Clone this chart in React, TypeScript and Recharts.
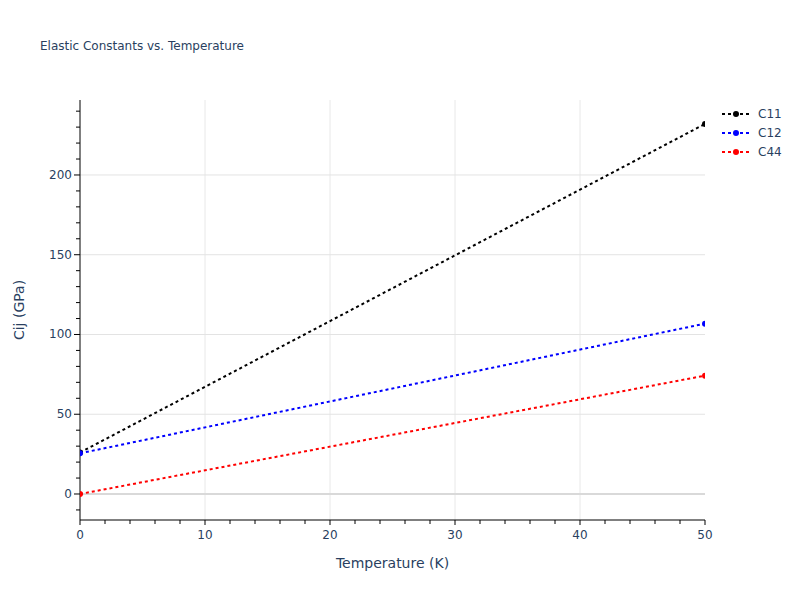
import React from 'react';
import { LineChart, Line, XAxis, YAxis, ReferenceLine, Label } from 'recharts';

const temperature = [0, 50];
const c11 = [26, 232];
const c12 = [25.5, 106.8];
const c44 = [0, 74.2];

const seriesNames = ['C11', 'C12', 'C44'];
const seriesColors = ['#000000', '#0000ff', '#ff0000'];

const xTicks = [0, 2, 4, 6, 8, 10, 12, 14, 16, 18, 20, 22, 24, 26, 28, 30, 32, 34, 36, 38, 40, 42, 44, 46, 48, 50];
const xMajor = [0, 10, 20, 30, 40, 50];
const xGrid = [10, 20, 30, 40];
const yTicks = [-10, 0, 10, 20, 30, 40, 50, 60, 70, 80, 90, 100, 110, 120, 130, 140, 150, 160, 170, 180, 190, 200, 210, 220, 230, 240];
const yMajor = [0, 50, 100, 150, 200];
const yGrid = [50, 100, 150, 200];

const data = temperature.map((t, i) => ({ t, C11: c11[i], C12: c12[i], C44: c44[i] }));

const FONT = '"DejaVu Sans", Verdana, sans-serif';
const TEXT = '#2a3f5f';

const XTick = (props: any) => {
  const { x, y, payload } = props;
  const major = xMajor.includes(payload.value);
  return (
    <g>
      <line x1={x} x2={x} y1={y} y2={y + (major ? 5 : 4)} stroke="#000" strokeWidth={1} />
      {major && (
        <text x={x} y={y + 19} textAnchor="middle" fontSize={12} fill={TEXT} fontFamily={FONT}>
          {payload.value}
        </text>
      )}
    </g>
  );
};

const YTick = (props: any) => {
  const { x, y, payload } = props;
  const major = yMajor.includes(payload.value);
  return (
    <g>
      <line x1={x} x2={x - (major ? 6 : 4)} y1={y} y2={y} stroke="#000" strokeWidth={1} />
      {major && (
        <text x={x - 8} y={y + 4} textAnchor="end" fontSize={12} fill={TEXT} fontFamily={FONT}>
          {payload.value}
        </text>
      )}
    </g>
  );
};

const LegendBox = () => (
  <svg width={80} height={60} style={{ position: 'absolute', left: 720, top: 104 }}>
    {seriesNames.map((n, i) => (
      <g key={n} transform={`translate(0, ${10 + i * 19})`}>
        <line x1={2} x2={30} y1={0} y2={0} stroke={seriesColors[i]} strokeWidth={2} strokeDasharray="3 3" />
        <circle cx={16} cy={0} r={3} fill={seriesColors[i]} />
        <text x={38} y={4} fontSize={12} fill={TEXT} fontFamily={FONT}>{n}</text>
      </g>
    ))}
  </svg>
);

export default function App() {
  return (
    <div style={{ position: 'absolute', left: 0, top: 0, width: 800, height: 600, background: '#fff' }}>
      <div style={{ position: 'absolute', left: 40, top: 38, fontSize: 12, lineHeight: '16px', color: TEXT, fontFamily: FONT, whiteSpace: 'nowrap' }}>
        Elastic Constants vs. Temperature
      </div>
      <LineChart width={800} height={600} data={data} margin={{ top: 100, right: 95, bottom: 0, left: 0 }}>
        {xGrid.map((v) => (
          <ReferenceLine key={'xg' + v} x={v} stroke="#e8e8e8" strokeWidth={1} />
        ))}
        {yGrid.map((v) => (
          <ReferenceLine key={'yg' + v} y={v} stroke="#e3e3e3" strokeWidth={1} />
        ))}
        <ReferenceLine y={0} stroke="#d9d9d9" strokeWidth={2} />
        <XAxis
          dataKey="t"
          type="number"
          domain={[0, 50]}
          ticks={xTicks}
          interval={0}
          tick={<XTick />}
          tickLine={false}
          tickSize={0}
          tickMargin={0}
          height={80}
          stroke="#000"
          allowDataOverflow
        >
          <Label value="Temperature (K)" position="insideBottom" offset={32} fontSize={14} fill={TEXT} fontFamily={FONT} />
        </XAxis>
        <YAxis
          type="number"
          domain={[-16.3, 247]}
          ticks={yTicks}
          interval={0}
          tick={<YTick />}
          tickLine={false}
          tickSize={0}
          tickMargin={0}
          width={80}
          stroke="#000"
          allowDataOverflow
        >
          <Label value="Cij (GPa)" angle={-90} position="insideLeft" offset={19} fontSize={14} fill={TEXT} fontFamily={FONT} style={{ textAnchor: 'middle' }} />
        </YAxis>
        {seriesNames.map((n, i) => (
          <Line
            key={n}
            dataKey={n}
            type="linear"
            stroke={seriesColors[i]}
            strokeWidth={2}
            strokeDasharray="3 3"
            dot={{ r: 3, fill: seriesColors[i], stroke: seriesColors[i], strokeWidth: 0 }}
            isAnimationActive={false}
          />
        ))}
      </LineChart>
      <LegendBox />
    </div>
  );
}
